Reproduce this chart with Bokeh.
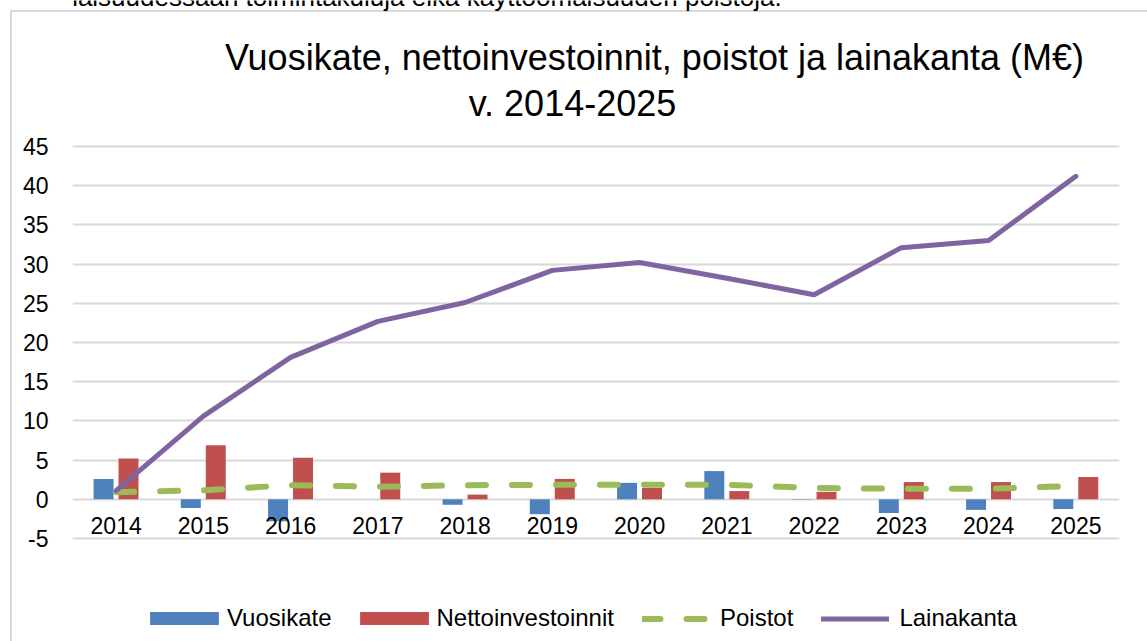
from bokeh.plotting import figure
from bokeh.models import Label, Legend, LegendItem, FixedTicker, CustomJSTickFormatter
from bokeh.transform import dodge
from bokeh.core.properties import value
from bokeh.embed import file_html
from bokeh.resources import INLINE

years = ["2014", "2015", "2016", "2017", "2018", "2019",
         "2020", "2021", "2022", "2023", "2024", "2025"]
vuosikate = [2.6, -1.1, -2.8, 0.0, -0.7, -1.9, 2.1, 3.6, -0.05, -1.75, -1.35, -1.25]
nettoinvestoinnit = [5.2, 6.9, 5.3, 3.4, 0.6, 2.6, 1.45, 1.05, 0.95, 2.2, 2.2, 2.85]
poistot = [0.9, 1.15, 1.8, 1.6, 1.8, 1.85, 1.85, 1.85, 1.45, 1.35, 1.35, 1.7]
lainakanta = [1.1, 10.6, 18.1, 22.7, 25.1, 29.2, 30.2, 28.2, 26.1, 32.1, 33.0, 41.2]
y_ticks = [-5, 0, 5, 10, 15, 20, 25, 30, 35, 40, 45]
zero_line = [0] * len(years)

title_1 = "Vuosikate, nettoinvestoinnit, poistot ja lainakanta (M€)"
title_2 = "v. 2014-2025"
top_text = "kokonaisuudessaan toimintakuluja eikä käyttöomaisuuden poistoja."

FONT = "Liberation Sans"
BLUE, RED, GREEN, PURPLE = "#4F81BD", "#C0504D", "#9BBB59", "#8064A2"
GRAY = "#D9D9D9"

# plot frame spans the full height; axis -5..45 sits at the reference's pixel rows
W, H = 1147, 641
ax_min, ax_max, top_px, bot_px = -5, 45, 146, 538
ppu = (bot_px - top_px) / (ax_max - ax_min)
y_start = ax_min - (H - bot_px) / ppu
y_end = ax_max + top_px / ppu
FRAME_LEFT = 72

box_css = {
    "background-color": "white",
    "background-image": f"linear-gradient({GRAY}, {GRAY}), linear-gradient({GRAY}, {GRAY})",
    "background-size": "2px 640px, 1140px 2px",
    "background-position": "10px 10px, 10px 10px",
    "background-repeat": "no-repeat",
}

p = figure(x_range=years, y_range=(y_start, y_end), width=W, height=H,
           output_backend="svg", toolbar_location=None, title=None,
           min_border_left=FRAME_LEFT, min_border_right=28,
           min_border_top=0, min_border_bottom=0, styles=box_css)
p.outline_line_color = None
p.background_fill_alpha = 0
p.border_fill_alpha = 0

p.xaxis.visible = False
p.xgrid.grid_line_color = None
p.ygrid.grid_line_color = GRAY
p.ygrid.grid_line_width = 2
p.yaxis.ticker = FixedTicker(ticks=y_ticks)
p.yaxis.formatter = CustomJSTickFormatter(code="return String(tick)")
p.yaxis.axis_line_color = None
p.yaxis.major_tick_line_color = None
p.yaxis.minor_tick_line_color = None
p.yaxis.major_tick_out = 0
p.yaxis.major_tick_in = 0
p.yaxis.major_label_standoff = 24
p.yaxis.major_label_text_font = FONT
p.yaxis.major_label_text_font_size = "23px"
p.yaxis.major_label_text_color = "#000000"

r_v = p.vbar(x=dodge("x", -0.144, range=p.x_range), top="top", width=0.229,
             source=dict(x=years, top=vuosikate), fill_color=BLUE, line_color=None)
r_n = p.vbar(x=dodge("x", 0.142, range=p.x_range), top="top", width=0.229,
             source=dict(x=years, top=nettoinvestoinnit), fill_color=RED, line_color=None)

p.text(x=years, y=zero_line, text=years, y_offset=26, text_align="center",
       text_baseline="middle", text_font=value(FONT), text_font_size="23px",
       text_color="#000000")

r_p = p.line(years, poistot, line_color=GREEN, line_width=6, line_dash="18 26",
             line_cap="round")
r_l = p.line(years, lainakanta, line_color=PURPLE, line_width=5, line_cap="round",
             line_join="round")

common = dict(orientation="horizontal", padding=0, margin=0,
              label_text_font=FONT, label_text_font_size="24px",
              label_text_color="#000000", border_line_color=None,
              background_fill_alpha=0)
legend_bars = Legend(items=[LegendItem(label="Vuosikate", renderers=[r_v]),
                            LegendItem(label="Nettoinvestoinnit", renderers=[r_n])],
                     location=(141 - FRAME_LEFT, 9), spacing=19, label_standoff=0,
                     glyph_width=86, glyph_height=16, **common)
legend_lines = Legend(items=[LegendItem(label="Poistot", renderers=[r_p]),
                             LegendItem(label="Lainakanta", renderers=[r_l])],
                      location=(642 - FRAME_LEFT, 9), spacing=28, label_standoff=10,
                      glyph_width=68, glyph_height=13, **common)
p.add_layout(legend_bars)
p.add_layout(legend_lines)

def label(text, cx, baseline_px, size, align):
    shift = 0.42 * size
    return Label(x=cx - FRAME_LEFT, y=H - baseline_px + shift, x_units="screen",
                 y_units="screen", text=text, text_align=align,
                 text_baseline="alphabetic", text_font=FONT,
                 text_font_size=f"{size}px", text_color="#000000")

p.add_layout(label(title_1, 654, 72, 36, "center"))
p.add_layout(label(title_2, 572, 118, 36, "center"))
p.add_layout(label(top_text, 8, 7, 26, "left"))

open("out.html", "w").write(file_html(p, INLINE))
